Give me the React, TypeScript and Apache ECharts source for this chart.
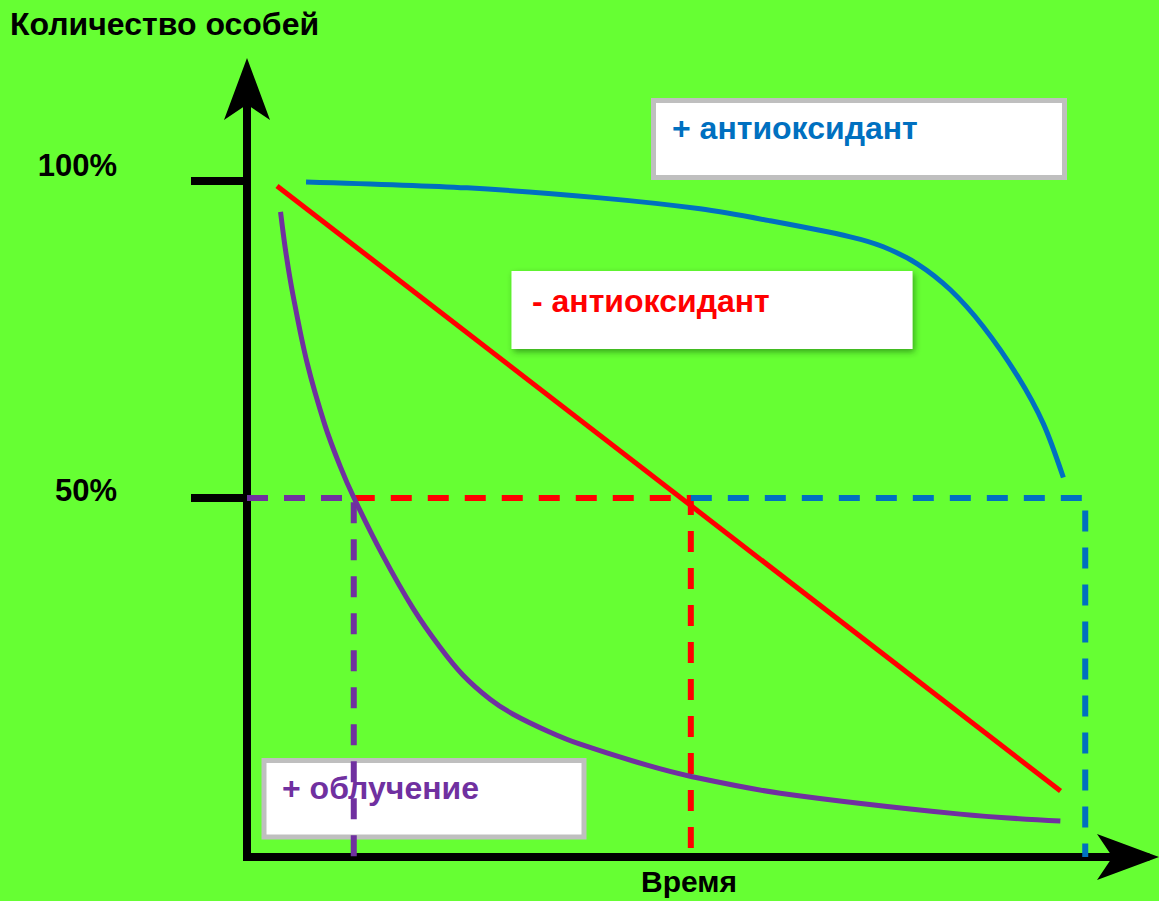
import React, { useEffect, useRef } from "react";
import * as echarts from "echarts";

// Axis ranges (time in arbitrary units, share of individuals in %)
const timeMin = 0;
const timeMax = 102.0;
const shareMin = -6.6;
const shareMax = 116.85;
const shareTicks = [50, 100];

// + антиоксидант (blue)
const blueTime = [6.69, 24.94, 40.02, 51.36, 59.3, 68.37, 72.11, 75.96, 79.71, 83.45, 87.3, 90.25, 92.52];
const blueShare = [99.84, 98.9, 97.32, 95.59, 93.7, 91.18, 89.61, 86.93, 82.83, 77.01, 69.29, 61.73, 53.23];

// - антиоксидант (red)
const redTime = [3.4, 92.2];
const redShare = [99.2, 3.8];

// + облучение (purple)
const purpleTime = [3.8, 4.42, 5.22, 6.8, 8.84, 10.54, 12.13, 15.42, 18.82, 21.88, 24.49, 27.55, 30.16, 34.35, 37.76, 45.35, 50.45, 60.43, 80.84, 92.18];
const purpleShare = [95.12, 88.57, 81.95, 71.37, 61.45, 55.07, 50.0, 40.87, 32.6, 26.46, 22.05, 18.27, 15.91, 13.07, 11.18, 7.87, 6.06, 3.46, 0.16, -0.94];

// 50% survival times
const halfShare = 50;
const purpleHalfTime = 12.1;
const redHalfTime = 50.3;
const blueHalfTime = 95.0;

const BLUE = "#0070C0";
const RED = "#FF0000";
const PURPLE = "#7030A0";
const FONT = '"Liberation Sans", Arial, Helvetica, sans-serif';

const zip = (xs: number[], ys: number[]) => xs.map((x, i) => [x, ys[i]]);

export default function App() {
  const ref = useRef<HTMLDivElement>(null);

  useEffect(() => {
    if (!ref.current) return;
    const chart = echarts.init(ref.current, undefined, { renderer: "svg" });

    const dashed = (color: string, data: number[][]) => ({
      type: "line",
      data,
      showSymbol: false,
      silent: true,
      z: 1,
      lineStyle: { color, width: 6, type: [21, 16] },
    });

    const curve = (color: string, data: number[][], smooth: number | boolean) => ({
      type: "line",
      data,
      showSymbol: false,
      smooth,
      silent: true,
      z: 3,
      lineStyle: { color, width: 5 },
    });

    chart.setOption({
      animation: false,
      backgroundColor: "#66FF33",
      title: [
        {
          text: "Количество особей",
          left: 10,
          top: 8,
          padding: 0,
          textStyle: { fontFamily: FONT, fontWeight: "bold", fontSize: 32, color: "#000" },
        },
        {
          text: "Время",
          left: 641,
          top: 866,
          padding: 0,
          textStyle: { fontFamily: FONT, fontWeight: "bold", fontSize: 30, color: "#000" },
        },
      ],
      grid: { left: 247, right: 12, top: 74, bottom: 44, containLabel: false },
      xAxis: {
        type: "value",
        min: timeMin,
        max: timeMax,
        splitLine: { show: false },
        axisTick: { show: false },
        axisLabel: { show: false },
        axisLine: {
          show: true,
          onZero: false,
          symbol: ["none", "arrow"],
          symbolSize: [34.5, 62],
          symbolOffset: [0, 12],
          lineStyle: { color: "#000", width: 8 },
        },
      },
      yAxis: {
        type: "value",
        min: shareMin,
        max: shareMax,
        splitLine: { show: false },
        axisLine: {
          show: true,
          onZero: false,
          symbol: ["none", "arrow"],
          symbolSize: [34.5, 62],
          symbolOffset: [0, 16],
          lineStyle: { color: "#000", width: 8, cap: "square" },
        },
        axisTick: {
          show: true,
          customValues: shareTicks,
          length: 56,
          lineStyle: { color: "#000", width: 8 },
        },
        axisLabel: {
          show: true,
          customValues: shareTicks,
          margin: 130,
          formatter: (v: number) => (v === 100 ? `{a|${v}%}` : `{b|${v}%}`),
          rich: {
            a: { fontFamily: FONT, fontWeight: "bold", fontSize: 31, color: "#000", padding: [0, 0, 30, 0] },
            b: { fontFamily: FONT, fontWeight: "bold", fontSize: 31, color: "#000", padding: [0, 0, 16, 0] },
          },
        },
      },
      series: [
        dashed(PURPLE, [
          [timeMin, halfShare],
          [purpleHalfTime, halfShare],
          [purpleHalfTime, shareMin],
        ]),
        dashed(RED, [
          [purpleHalfTime, halfShare],
          [redHalfTime, halfShare],
          [redHalfTime, shareMin],
        ]),
        dashed(BLUE, [
          [redHalfTime, halfShare],
          [blueHalfTime, halfShare],
          [blueHalfTime, shareMin],
        ]),
        curve(BLUE, zip(blueTime, blueShare), 0.3),
        curve(RED, zip(redTime, redShare), false),
        curve(PURPLE, zip(purpleTime, purpleShare), 0.35),
      ],
      graphic: [
        {
          type: "group",
          z: 100,
          children: [
            {
              type: "rect",
              shape: { x: 653.5, y: 100.5, width: 411, height: 77 },
              style: { fill: "#fff", stroke: "#BFBFBF", lineWidth: 5 },
            },
            {
              type: "text",
              x: 672,
              y: 112,
              style: { text: "+ антиоксидант", fill: BLUE, font: `bold 32px ${FONT}` },
            },
            {
              type: "rect",
              shape: { x: 511.5, y: 271, width: 401, height: 78 },
              style: {
                fill: "#fff",
                shadowBlur: 6,
                shadowOffsetX: 2,
                shadowOffsetY: 3,
                shadowColor: "rgba(0,60,0,0.45)",
              },
            },
            {
              type: "text",
              x: 532,
              y: 284.5,
              style: { text: "- антиоксидант", fill: RED, font: `bold 32px ${FONT}` },
            },
            {
              type: "rect",
              shape: { x: 264, y: 760.5, width: 320, height: 76.5 },
              style: { fill: "#fff", stroke: "#BFBFBF", lineWidth: 5 },
            },
            {
              type: "text",
              x: 282,
              y: 772,
              style: { text: "+ облучение", fill: PURPLE, font: `bold 32px ${FONT}` },
            },
          ],
        },
      ],
    });

    return () => chart.dispose();
  }, []);

  return (
    <div
      ref={ref}
      style={{ position: "fixed", left: 0, top: 0, width: 1159, height: 901 }}
    />
  );
}
